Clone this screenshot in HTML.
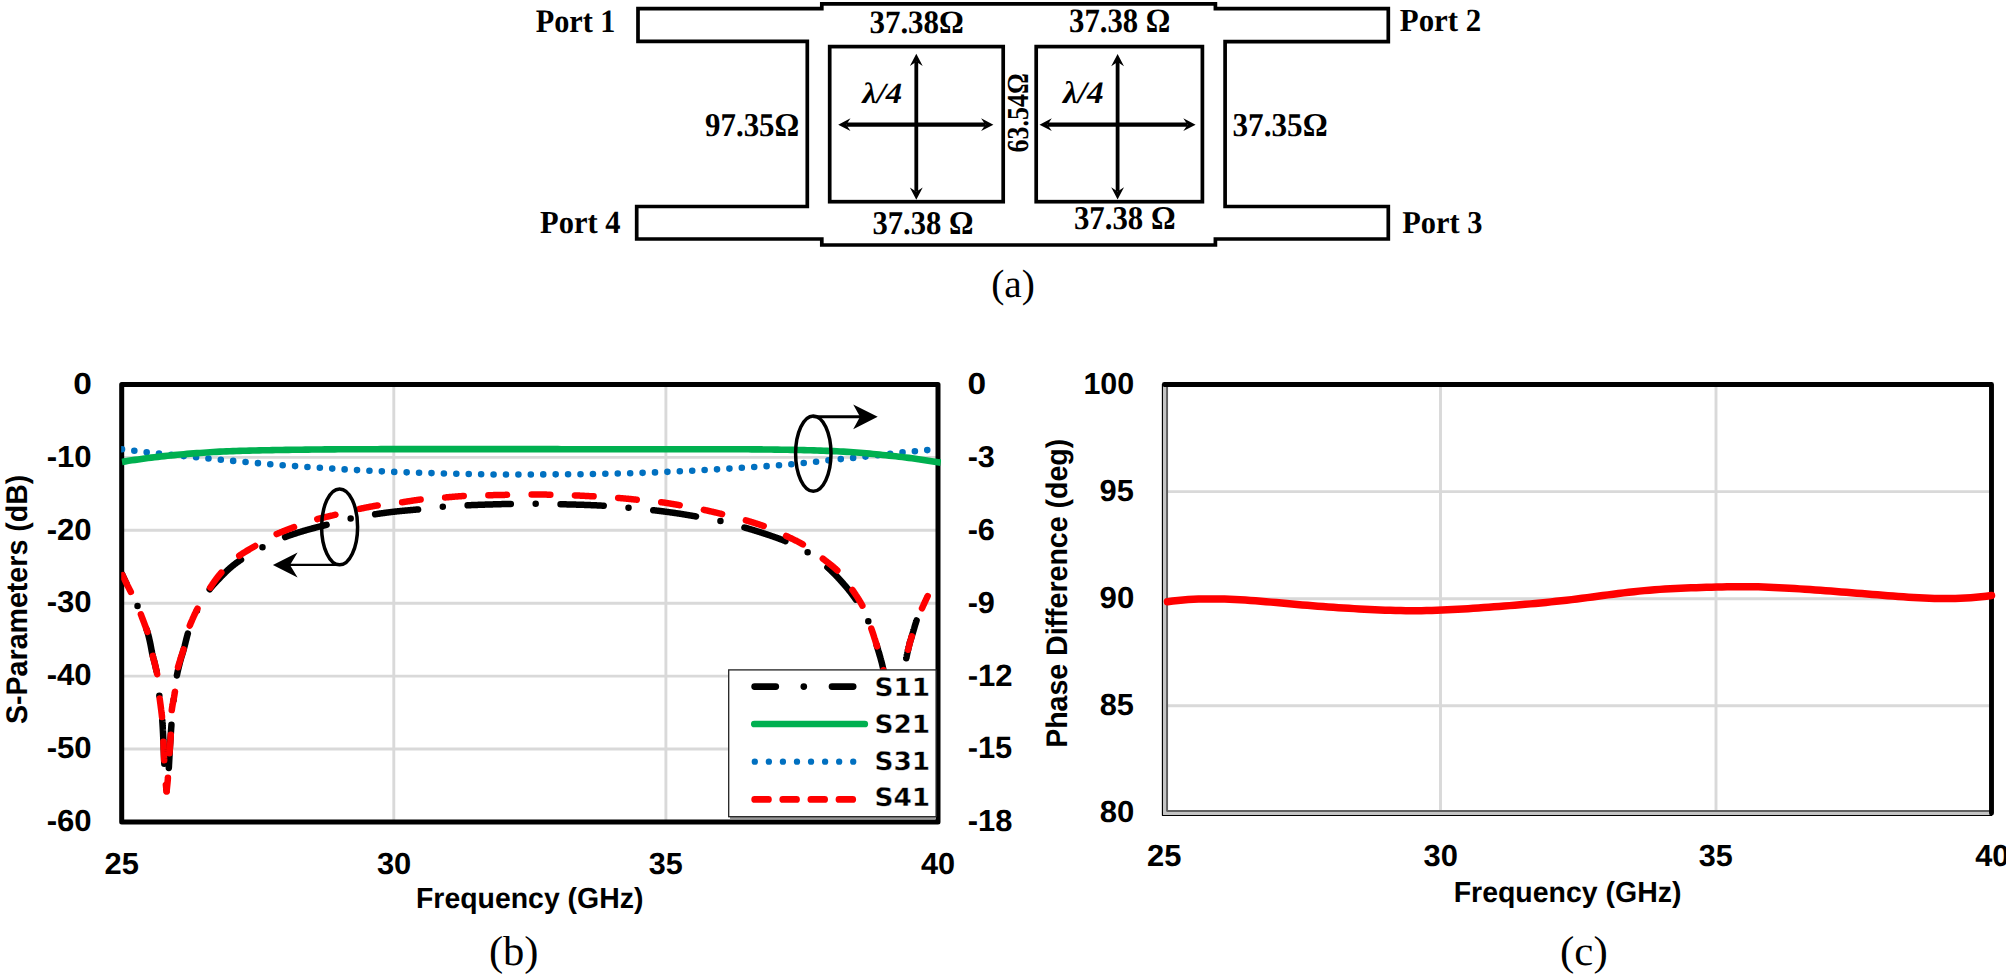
<!DOCTYPE html>
<html><head><meta charset="utf-8"><title>Figure</title>
<style>
html,body{margin:0;padding:0;background:#fff;}
body{width:2006px;height:978px;overflow:hidden;}
svg{display:block;}
text{fill:#000;text-rendering:geometricPrecision;}
</style></head><body>
<svg width="2006" height="978" viewBox="0 0 2006 978">
<rect width="2006" height="978" fill="#fff"/>

<g fill="none" stroke="#000" stroke-width="3.7" stroke-linejoin="miter">
<path d="M807.3,41.4 L638.0,41.4 L638.0,8.7 L821.8,8.7 L821.8,3.9 L1215.4,3.9 L1215.4,8.6 L1388.3,8.6 L1388.3,41.6 L1225.1,41.6 L1225.1,206.5 L1388.3,206.5 L1388.3,239.0 L1215.4,239.0 L1215.4,245.0 L821.8,245.0 L821.8,239.0 L636.7,239.0 L636.7,206.5 L807.3,206.5 Z"/>
<rect x="829.7" y="46.6" width="173.5" height="155.1"/>
<rect x="1036.2" y="46.6" width="166.2" height="155.1"/>
</g>
<path d="M916.3,61.8 L916.3,191.8" stroke="#000" stroke-width="3.8" fill="none"/>
<path d="M916.3,53.8 L909.9,66.1 L916.3,61.8 L922.7,66.1 Z" fill="#000"/>
<path d="M916.3,199.8 L922.7,187.5 L916.3,191.8 L909.9,187.5 Z" fill="#000"/>
<path d="M846.2,124.7 L985.4,124.7" stroke="#000" stroke-width="4.3" fill="none"/>
<path d="M838.2,124.7 L850.5,131.1 L846.2,124.7 L850.5,118.3 Z" fill="#000"/>
<path d="M993.4,124.7 L981.1,118.3 L985.4,124.7 L981.1,131.1 Z" fill="#000"/>
<path d="M1117.6,62.0 L1117.6,191.6" stroke="#000" stroke-width="3.8" fill="none"/>
<path d="M1117.6,54.0 L1111.2,66.3 L1117.6,62.0 L1124.0,66.3 Z" fill="#000"/>
<path d="M1117.6,199.6 L1124.0,187.3 L1117.6,191.6 L1111.2,187.3 Z" fill="#000"/>
<path d="M1047.5,124.7 L1187.6,124.7" stroke="#000" stroke-width="4.3" fill="none"/>
<path d="M1039.5,124.7 L1051.8,131.1 L1047.5,124.7 L1051.8,118.3 Z" fill="#000"/>
<path d="M1195.6,124.7 L1183.3,118.3 L1187.6,124.7 L1183.3,131.1 Z" fill="#000"/>
<text font-family='"Liberation Serif", serif' font-size="32.69" font-weight="bold" transform="translate(535.67,31.67) scale(0.9259,1)">Port 1</text>
<text font-family='"Liberation Serif", serif' font-size="32.21" font-weight="bold" transform="translate(540.07,233.08) scale(0.9460,1)">Port 4</text>
<text font-family='"Liberation Serif", serif' font-size="32.27" font-weight="bold" transform="translate(1399.76,31.48) scale(0.9583,1)">Port 2</text>
<text font-family='"Liberation Serif", serif' font-size="31.82" font-weight="bold" transform="translate(1402.27,232.98) scale(0.9567,1)">Port 3</text>
<text font-family='"Liberation Serif", serif' font-size="33.36" font-weight="bold" transform="translate(705.05,136.40) scale(0.9255,1)">97.35Ω</text>
<text font-family='"Liberation Serif", serif' font-size="33.36" font-weight="bold" transform="translate(1232.53,136.40) scale(0.9347,1)">37.35Ω</text>
<text font-family='"Liberation Serif", serif' font-size="32.65" font-weight="bold" transform="translate(869.44,32.71) scale(0.9478,1)">37.38Ω</text>
<text font-family='"Liberation Serif", serif' font-size="34.12" font-weight="bold" transform="translate(1069.05,31.69) scale(0.8993,1)">37.38 Ω</text>
<text font-family='"Liberation Serif", serif' font-size="33.09" font-weight="bold" transform="translate(872.45,233.60) scale(0.9245,1)">37.38 Ω</text>
<text font-family='"Liberation Serif", serif' font-size="33.24" font-weight="bold" transform="translate(1073.95,229.30) scale(0.9260,1)">37.38 Ω</text>
<text font-family='"Liberation Serif", serif' font-size="29.37" font-weight="bold" font-style="italic" transform="translate(862.15,103.01) scale(1.1150,1)">λ/4</text>
<text font-family='"Liberation Serif", serif' font-size="31.19" font-weight="bold" font-style="italic" transform="translate(1063.07,103.49) scale(1.0683,1)">λ/4</text>
<text font-family='"Liberation Serif", serif' font-size="30.55" font-weight="bold" transform="translate(1027.94,152.41) rotate(-90) scale(0.8500,1)">63.54Ω</text>
<text font-family='"Liberation Serif", serif' font-size="39.56" font-weight="normal" transform="translate(991.13,296.69) scale(0.9963,1)">(a)</text>
<text font-family='"Liberation Serif", serif' font-size="41.98" font-weight="normal" transform="translate(488.88,965.18) scale(1.0147,1)">(b)</text>
<text font-family='"Liberation Serif", serif' font-size="41.65" font-weight="normal" transform="translate(1560.07,964.95) scale(1.0308,1)">(c)</text>
<g stroke="#d9d9d9" stroke-width="2.9" fill="none">
<path d="M121.7,457.4 H938.0"/>
<path d="M121.7,530.3 H938.0"/>
<path d="M121.7,603.2 H938.0"/>
<path d="M121.7,676.1 H938.0"/>
<path d="M121.7,749.0 H938.0"/>
<path d="M393.8,384.5 V821.85"/>
<path d="M665.9,384.5 V821.85"/>
</g>
<rect x="121.7" y="384.5" width="816.3" height="437.4" fill="none" stroke="#000" stroke-width="5.0" stroke-linejoin="round"/>
<clipPath id="cb"><rect x="121.2" y="380" width="819.8" height="446"/></clipPath>
<g clip-path="url(#cb)">
<path d="M122.00,449.30 L122.01,449.30 M134.33,450.77 L134.34,450.77 M146.67,452.19 L146.68,452.19 M159.02,453.56 L159.03,453.56 M171.37,454.86 L171.38,454.86 M183.73,456.10 L183.74,456.10 M196.09,457.29 L196.10,457.29 M208.45,458.49 L208.46,458.49 M220.81,459.70 L220.82,459.70 M233.17,460.90 L233.18,460.90 M245.54,462.05 L245.55,462.05 M257.91,463.16 L257.92,463.16 M270.28,464.22 L270.29,464.22 M282.66,465.21 L282.67,465.21 M295.05,466.12 L295.06,466.12 M307.44,466.97 L307.45,466.97 M319.84,467.79 L319.85,467.79 M332.23,468.61 L332.24,468.61 M344.62,469.40 L344.63,469.40 M357.02,470.10 L357.03,470.10 M369.43,470.73 L369.44,470.73 M381.83,471.33 L381.84,471.33 M394.24,471.89 L394.25,471.89 M406.65,472.37 L406.66,472.37 M419.06,472.77 L419.07,472.77 M431.48,473.12 L431.49,473.12 M443.89,473.46 L443.90,473.46 M456.31,473.79 L456.32,473.79 M468.73,474.07 L468.74,474.07 M481.14,474.30 L481.15,474.30 M493.56,474.45 L493.57,474.45 M505.98,474.50 L505.99,474.50 M518.40,474.49 L518.41,474.49 M530.82,474.46 L530.83,474.46 M543.24,474.42 L543.25,474.42 M555.66,474.37 L555.67,474.37 M568.08,474.31 L568.09,474.31 M580.50,474.21 L580.51,474.21 M592.92,474.03 L592.93,474.03 M605.34,473.79 L605.35,473.79 M617.76,473.51 L617.77,473.51 M630.17,473.21 L630.18,473.21 M642.59,472.84 L642.60,472.84 M655.00,472.38 L655.01,472.38 M667.41,471.86 L667.42,471.86 M679.82,471.31 L679.83,471.31 M692.22,470.71 L692.23,470.71 M704.62,470.05 L704.63,470.05 M717.02,469.34 L717.03,469.34 M729.42,468.59 L729.43,468.59 M741.82,467.81 L741.83,467.81 M754.21,467.00 L754.22,467.00 M766.60,466.14 L766.61,466.14 M778.98,465.21 L778.99,465.21 M791.36,464.19 L791.37,464.19 M803.73,463.01 L803.74,463.01 M816.08,461.69 L816.09,461.69 M828.43,460.37 L828.44,460.37 M840.78,459.12 L840.79,459.12 M853.14,457.88 L853.15,457.88 M865.49,456.59 L865.50,456.59 M877.83,455.20 L877.84,455.20 M890.17,453.75 L890.18,453.75 M902.52,452.41 L902.53,452.41 M914.88,451.25 L914.89,451.25 M927.25,450.11 L927.26,450.11" fill="none" stroke="#0070c0" stroke-width="6.6" stroke-linecap="round"/>
<path d="M122.00,461.90 L125.24,461.38 L128.49,460.86 L131.73,460.36 L134.98,459.88 L138.23,459.40 L141.48,458.94 L144.73,458.49 L147.98,458.06 L151.24,457.64 L154.49,457.24 L157.75,456.86 L161.01,456.49 L164.27,456.13 L167.53,455.78 L170.80,455.44 L174.06,455.11 L177.33,454.79 L180.60,454.49 L183.87,454.19 L187.14,453.91 L190.41,453.65 L193.69,453.40 L196.96,453.16 L200.23,452.92 L203.51,452.69 L206.78,452.47 L210.06,452.25 L213.33,452.04 L216.61,451.85 L219.89,451.66 L223.17,451.49 L226.44,451.34 L229.72,451.20 L233.00,451.09 L236.28,450.99 L239.56,450.89 L242.84,450.79 L246.12,450.70 L249.40,450.62 L252.68,450.54 L255.96,450.46 L259.24,450.38 L262.53,450.31 L265.81,450.24 L269.09,450.18 L272.37,450.11 L275.65,450.05 L278.94,450.00 L282.22,449.94 L285.50,449.89 L288.78,449.85 L292.06,449.80 L295.35,449.76 L298.63,449.72 L301.91,449.68 L305.19,449.64 L308.47,449.60 L311.76,449.56 L315.04,449.53 L318.32,449.49 L321.60,449.45 L324.88,449.42 L328.16,449.39 L331.45,449.36 L334.73,449.33 L338.01,449.30 L341.29,449.28 L344.57,449.26 L347.86,449.24 L351.14,449.22 L354.42,449.21 L357.70,449.20 L360.98,449.20 L364.27,449.19 L367.55,449.19 L370.83,449.18 L374.11,449.18 L377.39,449.18 L380.68,449.17 L383.96,449.17 L387.24,449.16 L390.52,449.16 L393.80,449.16 L397.09,449.15 L400.37,449.15 L403.65,449.15 L406.93,449.14 L410.22,449.14 L413.50,449.14 L416.78,449.13 L420.06,449.13 L423.34,449.13 L426.63,449.13 L429.91,449.12 L433.19,449.12 L436.47,449.12 L439.75,449.12 L443.04,449.12 L446.32,449.11 L449.60,449.11 L452.88,449.11 L456.16,449.11 L459.45,449.11 L462.73,449.11 L466.01,449.11 L469.29,449.10 L472.57,449.10 L475.86,449.10 L479.14,449.10 L482.42,449.10 L485.70,449.10 L488.98,449.10 L492.27,449.10 L495.55,449.10 L498.83,449.10 L502.11,449.10 L505.39,449.10 L508.68,449.10 L511.96,449.10 L515.24,449.11 L518.52,449.11 L521.80,449.11 L525.09,449.12 L528.37,449.12 L531.65,449.13 L534.93,449.13 L538.21,449.14 L541.50,449.14 L544.78,449.15 L548.06,449.15 L551.34,449.16 L554.63,449.17 L557.91,449.17 L561.19,449.18 L564.47,449.19 L567.75,449.20 L571.04,449.20 L574.32,449.21 L577.60,449.22 L580.88,449.22 L584.16,449.23 L587.45,449.24 L590.73,449.24 L594.01,449.25 L597.29,449.26 L600.57,449.26 L603.86,449.27 L607.14,449.27 L610.42,449.28 L613.70,449.28 L616.98,449.29 L620.27,449.29 L623.55,449.29 L626.83,449.30 L630.11,449.30 L633.39,449.30 L636.68,449.30 L639.96,449.30 L643.24,449.30 L646.52,449.30 L649.80,449.30 L653.09,449.30 L656.37,449.30 L659.65,449.30 L662.93,449.30 L666.21,449.30 L669.50,449.30 L672.78,449.30 L676.06,449.30 L679.34,449.30 L682.62,449.30 L685.91,449.30 L689.19,449.30 L692.47,449.30 L695.75,449.30 L699.04,449.30 L702.32,449.30 L705.60,449.30 L708.88,449.30 L712.16,449.30 L715.45,449.30 L718.73,449.30 L722.01,449.30 L725.29,449.30 L728.57,449.30 L731.86,449.30 L735.14,449.30 L738.42,449.30 L741.70,449.30 L744.98,449.31 L748.27,449.32 L751.55,449.34 L754.83,449.36 L758.11,449.39 L761.39,449.42 L764.68,449.46 L767.96,449.50 L771.24,449.54 L774.52,449.59 L777.80,449.64 L781.08,449.69 L784.37,449.74 L787.65,449.80 L790.93,449.85 L794.21,449.91 L797.49,449.97 L800.77,450.04 L804.05,450.11 L807.34,450.20 L810.62,450.29 L813.90,450.39 L817.18,450.50 L820.46,450.61 L823.74,450.73 L827.02,450.86 L830.30,450.99 L833.58,451.12 L836.85,451.28 L840.13,451.45 L843.41,451.64 L846.68,451.85 L849.96,452.07 L853.23,452.30 L856.51,452.54 L859.78,452.78 L863.05,453.04 L866.32,453.32 L869.59,453.61 L872.86,453.92 L876.12,454.25 L879.39,454.58 L882.66,454.91 L885.92,455.25 L889.18,455.60 L892.45,455.95 L895.71,456.32 L898.97,456.69 L902.23,457.08 L905.49,457.47 L908.74,457.88 L912.00,458.30 L915.25,458.74 L918.50,459.20 L921.75,459.68 L924.99,460.17 L928.24,460.67 L931.48,461.17 L934.72,461.68 L937.96,462.19 L940.80,462.65" fill="none" stroke="#00b050" stroke-width="6.6" stroke-linecap="butt"/>
<path d="M122.00,574.00 L122.00,574.00 L122.19,574.41 L122.37,574.82 L122.56,575.23 L122.75,575.64 L122.93,576.04 L123.12,576.45 L123.31,576.86 L123.50,577.27 L123.69,577.67 L123.88,578.08 L124.07,578.49 L124.27,578.89 L124.46,579.30 L124.65,579.71 L124.84,580.11 L125.04,580.52 L125.23,580.92 L125.43,581.33 L125.63,581.73 L125.82,582.14 L126.02,582.54 L126.22,582.94 L126.42,583.34 L126.55,583.61 M137.52,605.93 L137.53,605.93 M146.44,629.15 L146.54,629.43 L146.70,629.85 L146.85,630.27 L147.00,630.70 L147.15,631.12 L147.29,631.55 L147.43,631.97 L147.57,632.40 L147.70,632.83 L147.83,633.26 L147.95,633.69 L148.08,634.12 L148.20,634.55 L148.31,634.98 L148.43,635.42 L148.54,635.85 L148.66,636.28 L148.77,636.72 L148.87,637.16 L148.98,637.59 L149.09,638.03 L149.19,638.47 L149.29,638.91 L149.39,639.35 L149.49,639.79 L149.59,640.22 L149.69,640.66 L149.79,641.10 L149.89,641.54 L149.98,641.98 L150.08,642.42 L150.17,642.86 L150.26,643.30 L150.35,643.74 L150.44,644.18 L150.53,644.62 L150.61,645.06 L150.70,645.50 L150.78,645.95 L150.86,646.39 L150.94,646.83 L151.02,647.27 L151.10,647.72 L151.18,648.16 L151.26,648.60 L151.34,649.04 L151.42,649.49 L151.50,649.93 L151.58,650.37 L151.66,650.81 L151.74,651.26 L151.83,651.70 L151.92,652.14 L152.00,652.58 L152.10,653.02 L152.19,653.46 L152.29,653.89 L152.39,654.33 L152.49,654.77 L152.59,655.20 L152.70,655.64 L152.81,656.08 L152.92,656.51 L153.04,656.95 L153.15,657.38 L153.26,657.82 L153.38,658.25 L153.50,658.69 L153.61,659.12 L153.73,659.55 L153.85,659.99 L153.97,660.42 L154.08,660.86 L154.20,661.29 L154.31,661.73 L154.43,662.16 L154.54,662.60 L154.65,663.03 L154.75,663.47 L154.86,663.91 L154.96,664.34 L155.06,664.78 L155.17,665.22 L155.27,665.66 L155.37,666.09 L155.48,666.53 L155.58,666.97 L155.69,667.41 L155.79,667.85 L155.89,668.28 L156.00,668.72 L156.10,669.16 L156.20,669.60 L156.30,670.04 L156.40,670.48 L156.49,670.92 L156.54,671.11 M159.33,695.81 L159.34,695.81 M162.28,720.51 L162.30,720.89 L162.33,721.34 L162.37,721.78 L162.40,722.23 L162.43,722.68 L162.46,723.13 L162.48,723.58 L162.51,724.03 L162.54,724.47 L162.57,724.92 L162.60,725.37 L162.62,725.82 L162.65,726.27 L162.68,726.72 L162.70,727.17 L162.73,727.61 L162.75,728.06 L162.78,728.51 L162.80,728.96 L162.82,729.41 L162.85,729.86 L162.87,730.31 L162.89,730.76 L162.92,731.21 L162.94,731.66 L162.96,732.10 L162.99,732.55 L163.01,733.00 L163.03,733.45 L163.05,733.90 L163.07,734.35 L163.10,734.80 L163.12,735.25 L163.14,735.70 L163.16,736.15 L163.18,736.59 L163.21,737.04 L163.23,737.49 L163.25,737.94 L163.27,738.39 L163.29,738.84 L163.31,739.29 L163.34,739.74 L163.36,740.19 L163.38,740.64 L163.40,741.08 L163.42,741.53 L163.44,741.98 L163.46,742.43 L163.48,742.88 L163.49,743.33 L163.51,743.78 L163.53,744.23 L163.55,744.68 L163.57,745.13 L163.59,745.57 L163.60,746.02 L163.62,746.47 L163.64,746.92 L163.65,747.37 L163.67,747.82 L163.69,748.27 L163.71,748.72 L163.72,749.17 L163.74,749.62 L163.76,750.07 L163.77,750.51 L163.79,750.96 L163.80,751.41 L163.82,751.86 L163.84,752.31 L163.85,752.76 L163.87,753.21 L163.89,753.66 L163.91,754.11 L163.92,754.56 L163.94,755.01 L163.96,755.46 L163.97,755.90 L163.99,756.35 L164.01,756.80 L164.03,757.25 L164.05,757.70 L164.06,758.15 L164.08,758.60 L164.10,759.05 L164.12,759.50 L164.14,759.95 L164.16,760.39 L164.18,760.84 L164.20,761.29 L164.22,761.74 L164.24,762.19 L164.26,762.64 L164.29,763.09 L164.31,763.54 L164.31,763.66 M166.27,788.45 L166.28,788.45" fill="none" stroke="#000" stroke-width="6.5" stroke-linecap="round"/>
<path d="M168.82,767.98 L168.83,767.70 L168.87,767.19 L168.90,766.69 L168.93,766.19 L168.96,765.68 L168.98,765.18 L169.01,764.67 L169.04,764.17 L169.07,763.67 L169.10,763.16 L169.12,762.66 L169.15,762.16 L169.18,761.65 L169.20,761.15 L169.23,760.64 L169.25,760.14 L169.28,759.64 L169.31,759.13 L169.33,758.63 L169.36,758.12 L169.38,757.62 L169.41,757.12 L169.43,756.61 L169.46,756.11 L169.48,755.60 L169.51,755.10 L169.54,754.60 L169.56,754.09 L169.59,753.59 L169.61,753.08 L169.64,752.58 L169.67,752.08 L169.69,751.57 L169.72,751.07 L169.75,750.56 L169.78,750.06 L169.81,749.56 L169.84,749.05 L169.87,748.55 L169.90,748.05 L169.93,747.54 L169.96,747.04 L169.99,746.54 L170.02,746.03 L170.05,745.53 L170.08,745.02 L170.11,744.52 L170.15,744.02 L170.18,743.51 L170.21,743.01 L170.24,742.51 L170.27,742.00 L170.30,741.50 L170.34,741.00 L170.37,740.49 L170.40,739.99 L170.43,739.49 L170.46,738.98 L170.50,738.48 L170.53,737.98 L170.56,737.47 L170.60,736.97 L170.63,736.46 L170.66,735.96 L170.70,735.46 L170.73,734.95 L170.76,734.45 L170.80,733.95 L170.83,733.44 L170.87,732.94 L170.90,732.44 L170.93,731.93 L170.97,731.43 L171.00,730.93 L171.04,730.42 L171.07,729.92 L171.11,729.42 L171.15,728.91 L171.18,728.41 L171.22,727.91 L171.25,727.40 L171.29,726.90 L171.33,726.40 L171.37,725.90 L171.40,725.39 L171.44,724.89 L171.44,724.86 M173.59,700.08 L173.60,700.08 M176.90,675.43 L176.93,675.26 L177.02,674.77 L177.12,674.28 L177.22,673.78 L177.32,673.29 L177.43,672.79 L177.53,672.30 L177.64,671.81 L177.75,671.31 L177.86,670.82 L177.97,670.33 L178.08,669.84 L178.20,669.34 L178.31,668.85 L178.43,668.36 L178.55,667.87 L178.67,667.38 L178.79,666.89 L178.91,666.40 L179.04,665.91 L179.16,665.42 L179.29,664.93 L179.41,664.44 L179.54,663.95 L179.66,663.46 L179.79,662.97 L179.91,662.48 L180.04,661.99 L180.17,661.51 L180.30,661.02 L180.42,660.53 L180.55,660.04 L180.69,659.56 L180.82,659.07 L180.96,658.59 L181.10,658.10 L181.25,657.62 L181.39,657.14 L181.54,656.65 L181.68,656.17 L181.83,655.69 L181.98,655.20 L182.13,654.72 L182.28,654.24 L182.42,653.76 L182.57,653.27 L182.72,652.79 L182.87,652.31 L183.02,651.83 L183.16,651.34 L183.31,650.86 L183.45,650.38 L183.59,649.89 L183.73,649.41 L183.87,648.92 L184.00,648.43 L184.13,647.95 L184.26,647.46 L184.39,646.97 L184.52,646.48 L184.65,646.00 L184.77,645.51 L184.90,645.02 L185.02,644.53 L185.14,644.04 L185.27,643.55 L185.39,643.06 L185.51,642.57 L185.63,642.08 L185.75,641.58 L185.87,641.09 L185.99,640.60 L186.11,640.11 L186.23,639.62 L186.35,639.13 L186.47,638.64 L186.60,638.15 L186.72,637.66 L186.85,637.17 L186.97,636.69 L187.10,636.20 L187.23,635.71 L187.36,635.22 L187.49,634.74 L187.63,634.25 L187.76,633.77 L187.80,633.64 M196.96,610.56 L196.97,610.56 M209.68,589.23 L209.71,589.18 L210.03,588.79 L210.34,588.40 L210.66,588.01 L210.98,587.62 L211.31,587.23 L211.63,586.85 L211.96,586.46 L212.29,586.08 L212.63,585.70 L212.96,585.32 L213.30,584.94 L213.64,584.56 L213.98,584.18 L214.32,583.80 L214.66,583.43 L215.01,583.06 L215.35,582.68 L215.70,582.31 L216.04,581.94 L216.39,581.57 L216.74,581.20 L217.09,580.83 L217.44,580.47 L217.79,580.10 L218.14,579.73 L218.49,579.37 L218.84,579.00 L219.19,578.64 L219.53,578.28 L219.88,577.91 L220.23,577.55 L220.58,577.19 L220.93,576.83 L221.28,576.46 L221.63,576.10 L221.99,575.74 L222.34,575.38 L222.69,575.02 L223.05,574.66 L223.41,574.30 L223.76,573.94 L224.12,573.58 L224.48,573.22 L224.84,572.86 L225.20,572.51 L225.57,572.16 L225.93,571.80 L226.29,571.45 L226.66,571.10 L227.03,570.75 L227.40,570.40 L227.76,570.06 L228.14,569.71 L228.51,569.37 L228.88,569.03 L229.26,568.69 L229.63,568.36 L230.01,568.02 L230.39,567.69 L230.77,567.36 L231.15,567.03 L231.53,566.71 L231.92,566.39 L232.30,566.07 L232.69,565.75 L233.08,565.44 L233.47,565.12 L233.87,564.81 L234.26,564.51 L234.66,564.20 L235.06,563.90 L235.46,563.59 L235.87,563.29 L236.27,562.99 L236.68,562.70 L237.09,562.40 L237.50,562.11 L237.92,561.82 L238.33,561.53 L238.75,561.24 L239.16,560.95 L239.58,560.67 L240.00,560.38 L240.42,560.10 L240.84,559.82 L241.01,559.71 M262.47,547.16 L262.48,547.16 M285.15,537.00 L285.17,536.99 L285.65,536.82 L286.12,536.65 L286.59,536.47 L287.07,536.30 L287.54,536.13 L288.02,535.96 L288.49,535.79 L288.97,535.63 L289.44,535.46 L289.92,535.29 L290.40,535.13 L290.88,534.96 L291.35,534.80 L291.83,534.64 L292.31,534.48 L292.79,534.32 L293.27,534.16 L293.75,534.00 L294.23,533.84 L294.71,533.68 L295.19,533.53 L295.67,533.37 L296.15,533.22 L296.64,533.06 L297.12,532.91 L297.60,532.76 L298.08,532.60 L298.56,532.45 L299.05,532.30 L299.53,532.15 L300.01,532.00 L300.50,531.86 L300.98,531.71 L301.46,531.56 L301.94,531.41 L302.43,531.27 L302.91,531.12 L303.39,530.98 L303.88,530.83 L304.36,530.69 L304.84,530.55 L305.33,530.40 L305.81,530.26 L306.29,530.12 L306.78,529.98 L307.26,529.84 L307.75,529.71 L308.23,529.57 L308.72,529.43 L309.20,529.30 L309.69,529.17 L310.18,529.03 L310.66,528.90 L311.15,528.77 L311.64,528.64 L312.12,528.51 L312.61,528.38 L313.10,528.25 L313.59,528.12 L314.08,527.99 L314.56,527.86 L315.05,527.74 L315.54,527.61 L316.03,527.48 L316.52,527.36 L317.01,527.23 L317.50,527.11 L317.99,526.98 L318.47,526.86 L318.96,526.73 L319.45,526.61 L319.94,526.49 L320.43,526.36 L320.92,526.24 L321.41,526.11 L321.90,525.99 L322.39,525.87 L322.88,525.74 L323.37,525.62 L323.86,525.49 L324.35,525.37 L324.84,525.24 L325.33,525.12 L325.81,524.99 L326.30,524.87 L326.57,524.80 M350.66,518.60 L350.67,518.60 M375.14,514.23 L375.57,514.17 L376.07,514.09 L376.57,514.02 L377.06,513.94 L377.56,513.87 L378.06,513.80 L378.56,513.73 L379.06,513.66 L379.56,513.58 L380.06,513.51 L380.56,513.44 L381.06,513.37 L381.56,513.30 L382.06,513.23 L382.56,513.17 L383.06,513.10 L383.56,513.03 L384.06,512.96 L384.56,512.90 L385.06,512.83 L385.56,512.76 L386.06,512.70 L386.56,512.63 L387.06,512.57 L387.57,512.51 L388.07,512.44 L388.57,512.38 L389.07,512.32 L389.57,512.25 L390.07,512.19 L390.57,512.13 L391.07,512.07 L391.57,512.01 L392.07,511.95 L392.57,511.89 L393.08,511.83 L393.58,511.77 L394.08,511.72 L394.58,511.66 L395.08,511.60 L395.58,511.55 L396.08,511.49 L396.58,511.44 L397.08,511.38 L397.59,511.33 L398.09,511.27 L398.59,511.22 L399.09,511.17 L399.59,511.12 L400.09,511.07 L400.60,511.02 L401.10,510.97 L401.60,510.92 L402.10,510.87 L402.60,510.82 L403.11,510.78 L403.61,510.73 L404.11,510.68 L404.61,510.64 L405.12,510.59 L405.62,510.54 L406.12,510.50 L406.62,510.45 L407.13,510.41 L407.63,510.36 L408.13,510.32 L408.63,510.27 L409.14,510.23 L409.64,510.18 L410.14,510.14 L410.65,510.09 L411.15,510.05 L411.65,510.00 L412.15,509.96 L412.66,509.91 L413.16,509.87 L413.66,509.82 L414.16,509.78 L414.67,509.73 L415.17,509.68 L415.67,509.64 L416.17,509.59 L416.68,509.54 L417.18,509.50 L417.68,509.45 L418.06,509.41 M442.80,506.78 L442.81,506.78 M467.63,505.28 L467.95,505.27 L468.45,505.25 L468.95,505.23 L469.46,505.20 L469.96,505.18 L470.47,505.16 L470.97,505.14 L471.47,505.12 L471.98,505.10 L472.48,505.08 L472.99,505.06 L473.49,505.04 L473.99,505.02 L474.50,505.00 L475.00,504.98 L475.51,504.96 L476.01,504.94 L476.52,504.92 L477.02,504.90 L477.52,504.88 L478.03,504.86 L478.53,504.84 L479.04,504.83 L479.54,504.81 L480.05,504.79 L480.55,504.77 L481.05,504.75 L481.56,504.74 L482.06,504.72 L482.57,504.70 L483.07,504.69 L483.58,504.67 L484.08,504.65 L484.58,504.64 L485.09,504.62 L485.59,504.60 L486.10,504.59 L486.60,504.57 L487.11,504.56 L487.61,504.54 L488.11,504.53 L488.62,504.51 L489.12,504.50 L489.63,504.48 L490.13,504.47 L490.64,504.45 L491.14,504.44 L491.64,504.42 L492.15,504.40 L492.65,504.39 L493.16,504.37 L493.66,504.36 L494.17,504.34 L494.67,504.33 L495.17,504.31 L495.68,504.29 L496.18,504.28 L496.69,504.26 L497.19,504.25 L497.70,504.23 L498.20,504.22 L498.70,504.20 L499.21,504.19 L499.71,504.17 L500.22,504.16 L500.72,504.15 L501.23,504.13 L501.73,504.12 L502.23,504.10 L502.74,504.09 L503.24,504.08 L503.75,504.07 L504.25,504.05 L504.76,504.04 L505.26,504.03 L505.77,504.02 L506.27,504.01 L506.77,504.00 L507.28,503.99 L507.78,503.98 L508.29,503.97 L508.79,503.96 L509.30,503.95 L509.80,503.94 L510.31,503.93 L510.80,503.93 M535.68,503.80 L535.69,503.80 M560.55,504.25 L560.75,504.25 L561.26,504.26 L561.76,504.27 L562.27,504.28 L562.77,504.29 L563.28,504.30 L563.78,504.32 L564.28,504.33 L564.79,504.34 L565.29,504.35 L565.80,504.36 L566.30,504.37 L566.81,504.38 L567.31,504.40 L567.82,504.41 L568.32,504.42 L568.82,504.43 L569.33,504.44 L569.83,504.46 L570.34,504.47 L570.84,504.48 L571.35,504.49 L571.85,504.51 L572.35,504.52 L572.86,504.53 L573.36,504.55 L573.87,504.56 L574.37,504.57 L574.88,504.59 L575.38,504.60 L575.89,504.62 L576.39,504.63 L576.89,504.64 L577.40,504.66 L577.90,504.67 L578.41,504.69 L578.91,504.70 L579.42,504.72 L579.92,504.73 L580.42,504.75 L580.93,504.77 L581.43,504.78 L581.94,504.80 L582.44,504.81 L582.94,504.83 L583.45,504.85 L583.95,504.86 L584.46,504.88 L584.96,504.90 L585.47,504.92 L585.97,504.94 L586.47,504.95 L586.98,504.97 L587.48,504.99 L587.99,505.01 L588.49,505.03 L589.00,505.05 L589.50,505.07 L590.00,505.09 L590.51,505.11 L591.01,505.13 L591.52,505.15 L592.02,505.17 L592.53,505.19 L593.03,505.21 L593.53,505.23 L594.04,505.26 L594.54,505.28 L595.05,505.30 L595.55,505.32 L596.05,505.35 L596.56,505.37 L597.06,505.39 L597.57,505.42 L598.07,505.44 L598.57,505.47 L599.08,505.49 L599.58,505.52 L600.09,505.54 L600.59,505.57 L601.09,505.59 L601.60,505.62 L602.10,505.65 L602.61,505.67 L603.11,505.70 L603.61,505.73 L603.72,505.74 M628.51,507.78 L628.52,507.78 M653.27,510.20 L653.36,510.21 L653.86,510.26 L654.36,510.32 L654.86,510.38 L655.36,510.44 L655.86,510.49 L656.36,510.55 L656.86,510.61 L657.36,510.67 L657.87,510.73 L658.37,510.79 L658.87,510.85 L659.37,510.91 L659.87,510.98 L660.37,511.04 L660.87,511.10 L661.37,511.16 L661.87,511.23 L662.37,511.29 L662.87,511.35 L663.37,511.42 L663.88,511.48 L664.38,511.55 L664.88,511.61 L665.38,511.68 L665.88,511.74 L666.38,511.81 L666.88,511.87 L667.38,511.94 L667.88,512.01 L668.38,512.08 L668.88,512.14 L669.38,512.21 L669.88,512.28 L670.38,512.35 L670.88,512.42 L671.38,512.49 L671.88,512.56 L672.38,512.63 L672.88,512.70 L673.37,512.77 L673.87,512.84 L674.37,512.91 L674.87,512.98 L675.37,513.05 L675.87,513.13 L676.37,513.20 L676.87,513.27 L677.37,513.35 L677.87,513.42 L678.37,513.50 L678.86,513.57 L679.36,513.65 L679.86,513.73 L680.36,513.80 L680.86,513.88 L681.36,513.96 L681.86,514.04 L682.35,514.12 L682.85,514.20 L683.35,514.28 L683.85,514.36 L684.35,514.44 L684.84,514.52 L685.34,514.60 L685.84,514.69 L686.34,514.77 L686.84,514.85 L687.33,514.93 L687.83,515.02 L688.33,515.10 L688.83,515.19 L689.32,515.27 L689.82,515.36 L690.32,515.44 L690.82,515.53 L691.31,515.61 L691.81,515.70 L692.31,515.78 L692.81,515.87 L693.30,515.96 L693.80,516.04 L694.30,516.13 L694.79,516.22 L695.29,516.30 L695.79,516.39 L696.01,516.43 M720.44,521.09 L720.45,521.09 M744.47,527.49 L744.94,527.63 L745.42,527.76 L745.91,527.90 L746.39,528.04 L746.88,528.19 L747.36,528.33 L747.85,528.47 L748.33,528.61 L748.81,528.75 L749.30,528.89 L749.78,529.04 L750.27,529.18 L750.75,529.32 L751.23,529.47 L751.72,529.61 L752.20,529.76 L752.68,529.90 L753.17,530.05 L753.65,530.20 L754.13,530.34 L754.62,530.49 L755.10,530.64 L755.58,530.79 L756.06,530.94 L756.55,531.08 L757.03,531.23 L757.51,531.39 L757.99,531.54 L758.47,531.69 L758.95,531.84 L759.43,531.99 L759.92,532.14 L760.40,532.30 L760.88,532.45 L761.36,532.61 L761.84,532.76 L762.32,532.92 L762.80,533.07 L763.28,533.23 L763.75,533.39 L764.23,533.55 L764.71,533.70 L765.19,533.86 L765.67,534.02 L766.15,534.18 L766.63,534.34 L767.10,534.50 L767.58,534.66 L768.06,534.82 L768.54,534.98 L769.02,535.14 L769.50,535.31 L769.98,535.47 L770.46,535.63 L770.93,535.79 L771.41,535.96 L771.89,536.12 L772.37,536.28 L772.85,536.45 L773.33,536.61 L773.80,536.78 L774.28,536.95 L774.76,537.11 L775.24,537.28 L775.71,537.45 L776.19,537.62 L776.66,537.79 L777.14,537.96 L777.62,538.14 L778.09,538.31 L778.56,538.48 L779.04,538.66 L779.51,538.83 L779.98,539.01 L780.46,539.19 L780.93,539.37 L781.40,539.55 L781.87,539.73 L782.34,539.91 L782.81,540.10 L783.28,540.28 L783.74,540.47 L784.21,540.66 L784.68,540.85 L785.14,541.04 L785.43,541.16 M807.62,552.35 L807.63,552.35 M827.44,567.33 L827.75,567.60 L828.13,567.94 L828.50,568.28 L828.87,568.61 L829.24,568.95 L829.61,569.30 L829.98,569.64 L830.35,569.99 L830.72,570.33 L831.08,570.68 L831.45,571.03 L831.81,571.38 L832.17,571.74 L832.53,572.09 L832.89,572.45 L833.25,572.80 L833.61,573.16 L833.97,573.52 L834.32,573.88 L834.68,574.24 L835.03,574.60 L835.39,574.97 L835.74,575.33 L836.09,575.70 L836.44,576.06 L836.79,576.43 L837.14,576.80 L837.48,577.17 L837.83,577.54 L838.17,577.90 L838.52,578.28 L838.86,578.65 L839.20,579.02 L839.54,579.39 L839.88,579.76 L840.22,580.13 L840.56,580.51 L840.89,580.88 L841.23,581.26 L841.56,581.63 L841.90,582.01 L842.23,582.38 L842.57,582.76 L842.90,583.14 L843.24,583.52 L843.57,583.90 L843.90,584.28 L844.24,584.66 L844.57,585.04 L844.90,585.42 L845.23,585.81 L845.56,586.19 L845.89,586.58 L846.21,586.96 L846.54,587.35 L846.87,587.74 L847.19,588.13 L847.52,588.52 L847.84,588.91 L848.16,589.30 L848.48,589.69 L848.80,590.08 L849.12,590.48 L849.44,590.87 L849.75,591.27 L850.07,591.67 L850.38,592.06 L850.69,592.46 L851.00,592.86 L851.31,593.26 L851.62,593.66 L851.92,594.07 L852.22,594.47 L852.53,594.87 L852.83,595.28 L853.13,595.68 L853.42,596.09 L853.72,596.50 L854.01,596.91 L854.30,597.32 L854.59,597.73 L854.88,598.14 L855.16,598.55 L855.44,598.96 L855.72,599.38 L855.93,599.68 M868.30,621.23 L868.31,621.23 M876.50,644.69 L876.61,645.07 L876.76,645.55 L876.91,646.03 L877.05,646.52 L877.20,647.00 L877.34,647.48 L877.49,647.97 L877.63,648.45 L877.78,648.93 L877.93,649.41 L878.07,649.90 L878.22,650.38 L878.36,650.86 L878.51,651.35 L878.65,651.83 L878.80,652.31 L878.94,652.80 L879.09,653.28 L879.23,653.77 L879.38,654.25 L879.52,654.74 L879.66,655.22 L879.81,655.71 L879.95,656.19 L880.09,656.68 L880.23,657.16 L880.37,657.65 L880.50,658.14 L880.64,658.62 L880.78,659.11 L880.91,659.60 L881.04,660.09 L881.18,660.57 L881.31,661.06 L881.44,661.55 L881.57,662.04 L881.69,662.53 L881.82,663.02 L881.94,663.51 L882.06,664.00 L882.18,664.49 L882.30,664.98 L882.42,665.47 L882.53,665.96 L882.65,666.45 L882.76,666.94 L882.87,667.43 L882.97,667.92 L883.08,668.41 L883.18,668.90 L883.28,669.40 L883.38,669.89 L883.48,670.38 L883.57,670.88 L883.67,671.37 L883.77,671.86 L883.86,672.36 L883.96,672.85 L884.05,673.35 L884.14,673.84 L884.24,674.34 L884.33,674.83 L884.42,675.33 L884.51,675.82 L884.61,676.32 L884.70,676.82 L884.79,677.31 L884.87,677.81 L884.96,678.31 L885.05,678.81 L885.14,679.30 L885.22,679.80 L885.31,680.30 L885.39,680.80 L885.48,681.30 L885.56,681.79 L885.64,682.29 L885.73,682.79 L885.81,683.29 L885.89,683.79 L885.97,684.29 L886.05,684.79 L886.12,685.29 L886.20,685.79 L886.28,686.29 L886.34,686.70 M889.00,711.43 L889.01,711.43 M890.61,736.25 L890.63,736.53 L890.65,737.03 L890.68,737.54 L890.71,738.04 L890.74,738.55 L890.77,739.05 L890.80,739.55 L890.83,740.06 L890.85,740.56 L890.88,741.07 L890.91,741.57 L890.94,742.08 L890.97,742.58 L891.00,743.08 L891.03,743.59 L891.05,744.09 L891.08,744.60 L891.11,745.10 L891.14,745.61 L891.17,746.11 L891.20,746.61 L891.23,747.12 L891.25,747.62 L891.28,748.13 L891.31,748.63 L891.34,749.14 L891.37,749.64 L891.40,750.14 L891.43,750.65 L891.46,751.15 L891.49,751.66 L891.52,752.16 L891.55,752.66 L891.58,753.17 L891.61,753.67 L891.64,754.18 L891.67,754.68 L891.70,755.18 L891.73,755.69 L891.76,756.19 L891.79,756.69 L891.82,757.20 L891.85,757.70 L891.89,758.21 L891.92,758.71 L891.95,759.21 L891.98,759.72 L892.01,760.22 L892.05,760.72 L892.08,761.23 L892.11,761.73 L892.14,762.23 L892.18,762.74 L892.21,763.24 L892.24,763.74 L892.27,764.25 L892.30,764.75 L892.34,765.25 L892.37,765.76 L892.40,766.26 L892.43,766.77 L892.47,767.27 L892.50,767.77 L892.53,768.28 L892.56,768.78 L892.59,769.28 L892.63,769.79 L892.66,770.29 L892.69,770.79 L892.72,771.30 L892.75,771.80 L892.78,772.30 L892.82,772.81 L892.85,773.31 L892.88,773.81 L892.91,774.32 L892.94,774.82 L892.97,775.33 L893.01,775.83 L893.04,776.33 L893.07,776.84 L893.10,777.34 L893.13,777.84 L893.16,778.35 L893.20,778.85 L893.23,779.35 L893.23,779.37" fill="none" stroke="#000" stroke-width="6.5" stroke-linecap="round"/>
<path d="M906.30,658.34 L906.31,658.28 L906.35,658.04 L906.40,657.81 L906.44,657.58 L906.49,657.35 L906.53,657.11 L906.58,656.88 L906.62,656.65 L906.67,656.41 L906.72,656.18 L906.76,655.95 L906.81,655.72 L906.86,655.48 L906.90,655.25 L906.95,655.02 L907.00,654.79 L907.05,654.55 L907.10,654.32 L907.14,654.09 L907.19,653.86 L907.24,653.62 L907.29,653.39 L907.34,653.16 L907.39,652.93 L907.44,652.70 L907.49,652.46 L907.54,652.23 L907.60,652.00 L907.65,651.77 L907.70,651.54 L907.75,651.31 L907.80,651.07 L907.85,650.84 L907.91,650.61 L907.96,650.38 L908.01,650.15 L908.07,649.92 L908.12,649.69 L908.17,649.45 L908.23,649.22 L908.28,648.99 L908.33,648.76 L908.39,648.53 L908.44,648.30 L908.50,648.07 L908.55,647.84 L908.61,647.61 L908.66,647.38 L908.72,647.15 L908.78,646.92 L908.83,646.69 L908.89,646.46 L908.94,646.23 L909.00,646.00 L909.06,645.77 L909.11,645.54 L909.17,645.31 L909.23,645.08 L909.29,644.85 L909.35,644.62 L909.41,644.39 L909.47,644.16 L909.53,643.94 L909.60,643.71 L909.66,643.48 L909.72,643.25 L909.78,643.02 L909.85,642.79 L909.91,642.56 L909.98,642.34 L910.04,642.11 L910.11,641.88 L910.17,641.65 L910.24,641.42 L910.30,641.20 L910.37,640.97 L910.44,640.74 L910.50,640.51 L910.57,640.29 L910.64,640.06 L910.71,639.83 L910.78,639.60 L910.84,639.38 L910.91,639.15 L910.98,638.92 L911.05,638.70 L911.12,638.47 L911.19,638.24 L911.26,638.01 L911.33,637.79 L911.40,637.56 L911.47,637.33 L911.54,637.11 L911.60,636.88 L911.67,636.65 L911.74,636.43 L911.81,636.20 L911.88,635.97 L911.95,635.75 L912.02,635.52 L912.09,635.29 L912.16,635.06 L912.23,634.84 L912.30,634.61 L912.37,634.38 L912.44,634.16 L912.51,633.93 L912.58,633.70 L912.65,633.48 L912.72,633.25 L912.78,633.02 L912.85,632.80 L912.92,632.57 L912.99,632.34 L913.05,632.11 L913.12,631.89 L913.19,631.66 L913.26,631.43 L913.32,631.20 L913.39,630.97 L913.46,630.75 L913.52,630.52 L913.59,630.29 L913.66,630.06 L913.72,629.83 L913.79,629.60 L913.86,629.38 L913.92,629.15 L913.99,628.92 L914.05,628.69 L914.12,628.46 L914.19,628.23 L914.25,628.01 L914.32,627.78 L914.39,627.55 L914.45,627.32 L914.52,627.09 L914.59,626.86 L914.65,626.64 L914.72,626.41 L914.79,626.18 L914.86,625.95 L914.92,625.72 L914.99,625.50 L915.06,625.27 L915.13,625.04 L915.20,624.81 L915.27,624.59 L915.34,624.36 L915.41,624.13 L915.48,623.91 L915.55,623.68 L915.62,623.45 L915.69,623.23 L915.76,623.00 L915.83,622.77 L915.90,622.55 L915.98,622.32 L916.05,622.10 L916.12,621.87 L916.20,621.65 L916.27,621.42 L916.35,621.20 L916.42,620.97 L916.50,620.75 L916.57,620.52 L916.59,620.47" fill="none" stroke="#000" stroke-width="6.5" stroke-linecap="round"/>
<path d="M122.54,575.18 L122.56,575.23 L122.75,575.64 L122.93,576.04 L123.12,576.45 L123.31,576.86 L123.50,577.27 L123.69,577.67 L123.88,578.08 L124.07,578.49 L124.27,578.89 L124.46,579.30 L124.65,579.71 L124.84,580.11 L125.04,580.52 L125.23,580.92 L125.43,581.33 L125.63,581.73 L125.82,582.14 L126.02,582.54 L126.22,582.94 L126.42,583.34 L126.62,583.75 L126.82,584.15 L127.02,584.55 L127.23,584.95 L127.43,585.35 L127.64,585.75 L127.84,586.15 L128.05,586.55 L128.25,586.95 L128.46,587.35 L128.67,587.75 L128.87,588.14 L129.08,588.54 L129.29,588.94 L129.49,589.34 L129.70,589.74 L129.91,590.14 L130.11,590.54 L130.32,590.94 L130.52,591.34 L130.72,591.74 L130.82,591.94 M140.88,614.37 L141.00,614.70 L141.16,615.12 L141.32,615.54 L141.48,615.96 L141.64,616.38 L141.80,616.80 L141.96,617.22 L142.12,617.64 L142.28,618.06 L142.44,618.48 L142.60,618.90 L142.76,619.32 L142.92,619.74 L143.08,620.16 L143.24,620.58 L143.40,621.00 L143.56,621.42 L143.72,621.84 L143.87,622.26 L144.03,622.68 L144.19,623.10 L144.34,623.52 L144.50,623.95 L144.65,624.37 L144.81,624.79 L144.96,625.21 L145.12,625.63 L145.28,626.05 L145.44,626.48 L145.60,626.90 L145.76,627.32 L145.92,627.74 L146.07,628.16 L146.23,628.58 L146.39,629.00 L146.54,629.43 L146.70,629.85 L146.85,630.27 L147.00,630.70 L147.15,631.12 L147.29,631.55 L147.40,631.90 M152.76,655.89 L152.81,656.08 L152.92,656.51 L153.04,656.95 L153.15,657.38 L153.26,657.82 L153.38,658.25 L153.50,658.69 L153.61,659.12 L153.73,659.55 L153.85,659.99 L153.97,660.42 L154.08,660.86 L154.20,661.29 L154.31,661.73 L154.43,662.16 L154.54,662.60 L154.65,663.03 L154.75,663.47 L154.86,663.91 L154.96,664.34 L155.06,664.78 L155.17,665.22 L155.27,665.66 L155.37,666.09 L155.48,666.53 L155.58,666.97 L155.69,667.41 L155.79,667.85 L155.89,668.28 L156.00,668.72 L156.10,669.16 L156.20,669.60 L156.30,670.04 L156.40,670.48 L156.49,670.92 L156.59,671.36 L156.68,671.80 L156.77,672.24 L156.86,672.68 L156.94,673.12 L157.03,673.56 L157.10,674.01 L157.12,674.07 M159.67,698.53 L159.68,698.58 L159.74,699.02 L159.80,699.47 L159.86,699.91 L159.92,700.36 L159.98,700.80 L160.04,701.25 L160.10,701.69 L160.16,702.14 L160.22,702.59 L160.28,703.03 L160.34,703.48 L160.40,703.92 L160.46,704.37 L160.52,704.81 L160.58,705.26 L160.64,705.70 L160.69,706.15 L160.75,706.60 L160.81,707.04 L160.86,707.49 L160.92,707.93 L160.97,708.38 L161.03,708.83 L161.09,709.27 L161.14,709.72 L161.20,710.16 L161.26,710.61 L161.32,711.06 L161.37,711.50 L161.43,711.95 L161.48,712.39 L161.54,712.84 L161.59,713.29 L161.65,713.73 L161.70,714.18 L161.75,714.63 L161.80,715.07 L161.85,715.52 L161.89,715.97 L161.94,716.41 L161.98,716.86 L162.00,717.09 M163.42,741.64 L163.44,741.98 L163.46,742.43 L163.48,742.88 L163.49,743.33 L163.51,743.78 L163.53,744.23 L163.55,744.68 L163.57,745.13 L163.59,745.57 L163.60,746.02 L163.62,746.47 L163.64,746.92 L163.65,747.37 L163.67,747.82 L163.69,748.27 L163.71,748.72 L163.72,749.17 L163.74,749.62 L163.76,750.07 L163.77,750.51 L163.79,750.96 L163.80,751.41 L163.82,751.86 L163.84,752.31 L163.85,752.76 L163.87,753.21 L163.89,753.66 L163.91,754.11 L163.92,754.56 L163.94,755.01 L163.96,755.46 L163.97,755.90 L163.99,756.35 L164.01,756.80 L164.03,757.25 L164.05,757.70 L164.06,758.15 L164.08,758.60 L164.10,759.05 L164.12,759.50 L164.14,759.95 L164.16,760.33 M165.88,784.87 L165.90,785.05 L165.94,785.49 L165.99,785.94 L166.04,786.39 L166.08,786.83 L166.13,787.28 L166.18,787.73 L166.23,788.17 L166.28,788.62 L166.34,789.07 L166.39,789.51 L166.44,789.96 L166.49,790.41 L166.55,790.85 L166.60,791.30" fill="none" stroke="#f00" stroke-width="6.5" stroke-linecap="round"/>
<path d="M166.60,791.30 L166.60,791.30 L166.66,790.79 L166.72,790.29 L166.77,789.78 L166.83,789.27 L166.89,788.77 L166.94,788.26 L167.00,787.75 L167.05,787.25 L167.11,786.74 L167.16,786.23 L167.21,785.72 L167.27,785.22 L167.32,784.71 L167.37,784.20 L167.42,783.70 L167.47,783.19 L167.52,782.68 L167.56,782.17 L167.61,781.67 L167.66,781.16 L167.70,780.65 L167.74,780.14 L167.79,779.64 L167.83,779.13 L167.87,778.62 L167.91,778.11 L167.92,777.87 M169.45,753.32 L169.46,753.18 L169.50,752.68 L169.54,752.17 L169.59,751.66 L169.63,751.15 L169.67,750.64 L169.71,750.14 L169.75,749.63 L169.79,749.12 L169.83,748.61 L169.88,748.10 L169.92,747.59 L169.96,747.09 L170.00,746.58 L170.04,746.07 L170.08,745.56 L170.12,745.05 L170.16,744.55 L170.20,744.04 L170.24,743.53 L170.28,743.02 L170.32,742.51 L170.36,742.00 L170.39,741.50 L170.43,740.99 L170.46,740.48 L170.50,739.97 L170.53,739.46 L170.57,738.95 L170.60,738.44 L170.63,737.94 L170.66,737.43 L170.69,736.92 L170.72,736.41 L170.74,735.90 L170.77,735.39 L170.79,734.88 L170.80,734.67 M171.79,710.10 L171.81,709.95 L171.87,709.45 L171.94,708.94 L172.01,708.44 L172.08,707.93 L172.15,707.43 L172.23,706.93 L172.31,706.42 L172.39,705.92 L172.48,705.42 L172.56,704.91 L172.65,704.41 L172.74,703.91 L172.84,703.41 L172.93,702.90 L173.02,702.40 L173.12,701.90 L173.22,701.40 L173.31,700.89 L173.41,700.39 L173.51,699.89 L173.60,699.39 L173.70,698.88 L173.80,698.38 L173.89,697.88 L173.99,697.38 L174.08,696.87 L174.17,696.37 L174.26,695.87 L174.35,695.36 L174.44,694.86 L174.52,694.36 L174.61,693.85 L174.69,693.35 L174.77,692.85 L174.84,692.34 L174.91,691.84 L174.94,691.67 M177.99,667.27 L178.03,667.09 L178.16,666.60 L178.30,666.11 L178.44,665.62 L178.58,665.13 L178.73,664.64 L178.88,664.15 L179.03,663.66 L179.19,663.17 L179.34,662.68 L179.50,662.19 L179.66,661.70 L179.81,661.22 L179.97,660.73 L180.12,660.24 L180.27,659.75 L180.42,659.26 L180.57,658.78 L180.71,658.29 L180.87,657.80 L181.02,657.31 L181.17,656.83 L181.33,656.34 L181.48,655.86 L181.64,655.37 L181.80,654.89 L181.96,654.40 L182.12,653.92 L182.28,653.43 L182.43,652.95 L182.59,652.46 L182.75,651.98 L182.90,651.49 L183.05,651.00 L183.20,650.52 L183.35,650.03 L183.49,649.54 L183.53,649.42 M189.76,625.64 L189.85,625.42 L190.04,624.95 L190.23,624.48 L190.43,624.00 L190.62,623.53 L190.82,623.06 L191.02,622.59 L191.22,622.12 L191.43,621.65 L191.63,621.18 L191.83,620.71 L192.04,620.24 L192.24,619.77 L192.45,619.31 L192.65,618.84 L192.86,618.37 L193.06,617.91 L193.26,617.44 L193.47,616.97 L193.68,616.51 L193.89,616.04 L194.10,615.58 L194.31,615.11 L194.53,614.65 L194.74,614.19 L194.96,613.73 L195.18,613.26 L195.40,612.80 L195.62,612.34 L195.84,611.89 L196.07,611.43 L196.29,610.97 L196.52,610.52 L196.75,610.06 L196.98,609.61 L197.21,609.16 L197.45,608.71 L197.49,608.62 M210.24,587.60 L210.41,587.35 L210.69,586.92 L210.97,586.49 L211.25,586.07 L211.54,585.64 L211.82,585.21 L212.11,584.79 L212.39,584.36 L212.68,583.94 L212.97,583.51 L213.26,583.09 L213.55,582.67 L213.84,582.25 L214.13,581.83 L214.43,581.41 L214.72,580.99 L215.02,580.58 L215.32,580.16 L215.62,579.75 L215.92,579.34 L216.22,578.93 L216.52,578.52 L216.83,578.11 L217.14,577.71 L217.45,577.30 L217.76,576.90 L218.07,576.50 L218.38,576.11 L218.70,575.71 L219.02,575.32 L219.34,574.93 L219.66,574.54 L219.99,574.16 L220.31,573.77 L220.64,573.39 L220.97,573.00 L221.31,572.62 L221.35,572.57 M239.24,555.77 L239.51,555.58 L239.92,555.29 L240.34,555.01 L240.76,554.72 L241.18,554.43 L241.60,554.15 L242.02,553.87 L242.45,553.59 L242.88,553.32 L243.31,553.04 L243.74,552.77 L244.17,552.50 L244.60,552.22 L245.04,551.96 L245.48,551.69 L245.91,551.42 L246.35,551.16 L246.79,550.89 L247.23,550.63 L247.67,550.36 L248.11,550.10 L248.56,549.84 L249.00,549.58 L249.44,549.32 L249.89,549.06 L250.33,548.80 L250.77,548.54 L251.22,548.28 L251.66,548.03 L252.10,547.77 L252.55,547.51 L252.99,547.25 L253.43,546.99 L253.88,546.73 L254.32,546.47 L254.76,546.22 L255.16,545.98 M276.65,534.04 L277.03,533.88 L277.49,533.67 L277.96,533.47 L278.42,533.27 L278.89,533.07 L279.36,532.87 L279.83,532.67 L280.30,532.47 L280.77,532.28 L281.24,532.08 L281.71,531.89 L282.19,531.70 L282.66,531.51 L283.13,531.32 L283.61,531.13 L284.08,530.94 L284.56,530.75 L285.03,530.56 L285.51,530.38 L285.99,530.19 L286.46,530.01 L286.94,529.82 L287.42,529.64 L287.90,529.46 L288.37,529.28 L288.85,529.09 L289.33,528.91 L289.81,528.73 L290.29,528.55 L290.76,528.37 L291.24,528.19 L291.72,528.01 L292.20,527.83 L292.67,527.65 L293.15,527.47 L293.63,527.29 L294.03,527.14 M317.26,519.10 L317.70,518.98 L318.20,518.85 L318.69,518.72 L319.18,518.60 L319.67,518.47 L320.17,518.34 L320.66,518.22 L321.16,518.10 L321.65,517.98 L322.15,517.86 L322.64,517.74 L323.14,517.62 L323.63,517.50 L324.13,517.38 L324.63,517.26 L325.12,517.15 L325.62,517.03 L326.12,516.92 L326.62,516.80 L327.11,516.69 L327.61,516.57 L328.11,516.46 L328.61,516.34 L329.10,516.23 L329.60,516.12 L330.10,516.00 L330.60,515.89 L331.09,515.77 L331.59,515.66 L332.09,515.54 L332.59,515.43 L333.08,515.31 L333.58,515.20 L334.08,515.08 L334.57,514.96 L335.07,514.84 L335.45,514.75 M359.35,508.92 L359.83,508.82 L360.33,508.71 L360.83,508.61 L361.33,508.50 L361.82,508.40 L362.32,508.29 L362.82,508.19 L363.32,508.09 L363.82,507.98 L364.32,507.88 L364.82,507.78 L365.32,507.68 L365.82,507.58 L366.32,507.48 L366.82,507.38 L367.32,507.28 L367.82,507.19 L368.33,507.09 L368.83,506.99 L369.33,506.90 L369.83,506.80 L370.33,506.71 L370.83,506.62 L371.33,506.52 L371.84,506.43 L372.34,506.34 L372.84,506.25 L373.34,506.16 L373.84,506.08 L374.35,505.99 L374.85,505.90 L375.35,505.82 L375.85,505.73 L376.36,505.65 L376.86,505.57 L377.36,505.49 L377.72,505.43 M402.11,502.26 L402.12,502.26 L402.63,502.19 L403.13,502.11 L403.64,502.03 L404.14,501.96 L404.65,501.88 L405.15,501.80 L405.65,501.73 L406.16,501.65 L406.66,501.57 L407.17,501.49 L407.67,501.41 L408.17,501.33 L408.68,501.25 L409.18,501.17 L409.69,501.09 L410.19,501.01 L410.69,500.93 L411.20,500.85 L411.70,500.77 L412.21,500.70 L412.71,500.62 L413.21,500.54 L413.72,500.46 L414.22,500.39 L414.73,500.31 L415.23,500.24 L415.73,500.17 L416.24,500.09 L416.74,500.02 L417.25,499.95 L417.75,499.88 L418.26,499.82 L418.76,499.75 L419.27,499.69 L419.77,499.62 L420.28,499.56 L420.61,499.52 M445.12,497.46 L445.16,497.46 L445.67,497.42 L446.18,497.37 L446.69,497.33 L447.19,497.29 L447.70,497.24 L448.21,497.20 L448.72,497.15 L449.23,497.11 L449.74,497.07 L450.24,497.02 L450.75,496.98 L451.26,496.93 L451.77,496.89 L452.28,496.85 L452.78,496.80 L453.29,496.76 L453.80,496.72 L454.31,496.67 L454.82,496.63 L455.32,496.59 L455.83,496.55 L456.34,496.51 L456.85,496.47 L457.36,496.43 L457.87,496.39 L458.37,496.35 L458.88,496.32 L459.39,496.28 L459.90,496.25 L460.41,496.21 L460.92,496.18 L461.42,496.14 L461.93,496.11 L462.44,496.08 L462.95,496.05 L463.46,496.02 L463.76,496.01 M488.35,495.24 L488.42,495.24 L488.93,495.23 L489.44,495.22 L489.95,495.21 L490.46,495.19 L490.97,495.18 L491.48,495.17 L491.99,495.16 L492.50,495.15 L493.01,495.13 L493.52,495.12 L494.03,495.11 L494.53,495.10 L495.04,495.09 L495.55,495.08 L496.06,495.06 L496.57,495.05 L497.08,495.04 L497.59,495.03 L498.10,495.02 L498.61,495.01 L499.12,495.00 L499.63,494.99 L500.14,494.98 L500.65,494.97 L501.16,494.96 L501.67,494.94 L502.18,494.93 L502.69,494.92 L503.20,494.91 L503.71,494.90 L504.22,494.89 L504.73,494.88 L505.24,494.87 L505.75,494.86 L506.26,494.86 L506.77,494.85 L507.05,494.84 M531.64,494.50 L531.74,494.50 L532.25,494.50 L532.76,494.51 L533.27,494.51 L533.78,494.51 L534.29,494.51 L534.80,494.51 L535.31,494.52 L535.82,494.52 L536.33,494.52 L536.84,494.53 L537.35,494.53 L537.85,494.53 L538.36,494.54 L538.87,494.54 L539.38,494.55 L539.89,494.55 L540.40,494.55 L540.91,494.56 L541.42,494.56 L541.93,494.57 L542.44,494.57 L542.95,494.58 L543.46,494.59 L543.97,494.59 L544.48,494.60 L544.99,494.60 L545.50,494.61 L546.01,494.61 L546.52,494.62 L547.03,494.63 L547.54,494.63 L548.05,494.64 L548.56,494.65 L549.07,494.65 L549.58,494.66 L550.09,494.67 L550.34,494.67 M574.93,495.39 L575.05,495.40 L575.56,495.42 L576.07,495.44 L576.58,495.46 L577.09,495.49 L577.60,495.51 L578.11,495.53 L578.62,495.56 L579.13,495.58 L579.63,495.61 L580.14,495.63 L580.65,495.66 L581.16,495.68 L581.67,495.71 L582.18,495.73 L582.69,495.76 L583.20,495.79 L583.71,495.81 L584.22,495.84 L584.72,495.87 L585.23,495.89 L585.74,495.92 L586.25,495.95 L586.76,495.98 L587.27,496.01 L587.78,496.03 L588.29,496.06 L588.80,496.09 L589.31,496.12 L589.81,496.15 L590.32,496.18 L590.83,496.21 L591.34,496.23 L591.85,496.26 L592.36,496.29 L592.87,496.32 L593.38,496.35 L593.60,496.36 M618.15,497.93 L618.30,497.94 L618.81,497.98 L619.32,498.02 L619.83,498.06 L620.33,498.11 L620.84,498.15 L621.35,498.19 L621.86,498.24 L622.36,498.28 L622.87,498.33 L623.38,498.37 L623.89,498.42 L624.39,498.47 L624.90,498.51 L625.41,498.56 L625.92,498.61 L626.42,498.66 L626.93,498.71 L627.44,498.76 L627.95,498.80 L628.45,498.85 L628.96,498.90 L629.47,498.95 L629.98,499.00 L630.48,499.05 L630.99,499.10 L631.50,499.15 L632.01,499.20 L632.51,499.25 L633.02,499.31 L633.53,499.36 L634.03,499.41 L634.54,499.46 L635.05,499.51 L635.56,499.56 L636.06,499.61 L636.57,499.66 L636.77,499.68 M661.24,502.21 L661.41,502.23 L661.92,502.30 L662.42,502.37 L662.93,502.44 L663.43,502.51 L663.93,502.58 L664.44,502.66 L664.94,502.73 L665.45,502.81 L665.95,502.88 L666.45,502.96 L666.96,503.04 L667.46,503.12 L667.97,503.20 L668.47,503.28 L668.97,503.36 L669.48,503.44 L669.98,503.52 L670.48,503.61 L670.98,503.69 L671.49,503.77 L671.99,503.86 L672.49,503.94 L673.00,504.03 L673.50,504.12 L674.00,504.20 L674.50,504.29 L675.01,504.38 L675.51,504.47 L676.01,504.55 L676.51,504.64 L677.02,504.73 L677.52,504.82 L678.02,504.91 L678.52,505.00 L679.03,505.09 L679.53,505.17 L679.70,505.20 M703.85,509.85 L704.05,509.89 L704.55,510.00 L705.05,510.11 L705.55,510.22 L706.04,510.32 L706.54,510.43 L707.04,510.54 L707.54,510.65 L708.04,510.76 L708.53,510.87 L709.03,510.99 L709.53,511.10 L710.02,511.21 L710.52,511.32 L711.02,511.44 L711.52,511.55 L712.01,511.66 L712.51,511.78 L713.01,511.89 L713.50,512.01 L714.00,512.12 L714.50,512.24 L714.99,512.36 L715.49,512.47 L715.99,512.59 L716.48,512.71 L716.98,512.83 L717.47,512.94 L717.97,513.06 L718.47,513.18 L718.96,513.30 L719.46,513.42 L719.95,513.54 L720.45,513.66 L720.94,513.78 L721.44,513.90 L721.93,514.02 L722.07,514.06 M745.86,520.34 L746.08,520.40 L746.57,520.55 L747.05,520.69 L747.54,520.84 L748.03,520.98 L748.52,521.13 L749.01,521.27 L749.50,521.42 L749.99,521.57 L750.48,521.72 L750.97,521.86 L751.45,522.01 L751.94,522.16 L752.43,522.31 L752.92,522.46 L753.41,522.62 L753.89,522.77 L754.38,522.92 L754.87,523.08 L755.35,523.23 L755.84,523.39 L756.33,523.54 L756.81,523.70 L757.30,523.86 L757.78,524.02 L758.27,524.18 L758.75,524.34 L759.24,524.50 L759.72,524.66 L760.20,524.83 L760.68,524.99 L761.17,525.16 L761.65,525.32 L762.13,525.49 L762.61,525.66 L763.09,525.83 L763.57,526.00 L763.66,526.04 M786.16,535.95 L786.41,536.07 L786.87,536.29 L787.33,536.51 L787.79,536.73 L788.25,536.95 L788.71,537.17 L789.17,537.39 L789.64,537.61 L790.10,537.83 L790.56,538.05 L791.02,538.27 L791.48,538.49 L791.94,538.71 L792.40,538.94 L792.86,539.16 L793.33,539.38 L793.79,539.61 L794.24,539.83 L794.70,540.06 L795.16,540.29 L795.62,540.52 L796.08,540.74 L796.53,540.98 L796.99,541.21 L797.44,541.44 L797.90,541.67 L798.35,541.91 L798.81,542.14 L799.26,542.38 L799.71,542.62 L800.16,542.86 L800.61,543.10 L801.05,543.34 L801.50,543.59 L801.94,543.83 L802.39,544.08 L802.83,544.33 L802.86,544.35 M822.84,558.66 L823.09,558.86 L823.49,559.17 L823.90,559.49 L824.30,559.80 L824.71,560.11 L825.11,560.42 L825.52,560.74 L825.93,561.05 L826.34,561.36 L826.74,561.67 L827.15,561.99 L827.56,562.30 L827.97,562.61 L828.38,562.93 L828.78,563.24 L829.19,563.56 L829.60,563.87 L830.00,564.19 L830.41,564.51 L830.81,564.83 L831.21,565.15 L831.61,565.47 L832.01,565.79 L832.41,566.11 L832.80,566.44 L833.20,566.76 L833.59,567.09 L833.98,567.42 L834.37,567.75 L834.75,568.08 L835.14,568.42 L835.52,568.75 L835.89,569.09 L836.27,569.43 L836.64,569.78 L837.01,570.12 L837.35,570.44 M852.41,589.83 L852.63,590.16 L852.92,590.58 L853.20,591.00 L853.49,591.42 L853.77,591.84 L854.06,592.27 L854.34,592.69 L854.63,593.12 L854.91,593.54 L855.20,593.97 L855.48,594.39 L855.76,594.82 L856.05,595.24 L856.33,595.67 L856.61,596.10 L856.89,596.53 L857.18,596.96 L857.45,597.39 L857.73,597.82 L858.01,598.25 L858.28,598.69 L858.56,599.12 L858.83,599.55 L859.10,599.99 L859.37,600.43 L859.63,600.86 L859.89,601.30 L860.16,601.74 L860.41,602.18 L860.67,602.62 L860.92,603.06 L861.17,603.51 L861.42,603.95 L861.66,604.40 L861.90,604.84 L862.14,605.29 L862.34,605.66 M871.30,628.55 L871.45,628.98 L871.61,629.46 L871.78,629.94 L871.95,630.42 L872.11,630.91 L872.27,631.39 L872.44,631.87 L872.60,632.35 L872.76,632.84 L872.92,633.32 L873.08,633.80 L873.25,634.29 L873.40,634.77 L873.56,635.25 L873.72,635.74 L873.88,636.22 L874.04,636.71 L874.19,637.20 L874.35,637.68 L874.50,638.17 L874.66,638.65 L874.81,639.14 L874.96,639.63 L875.12,640.11 L875.27,640.60 L875.42,641.09 L875.57,641.57 L875.72,642.06 L875.87,642.55 L876.02,643.04 L876.17,643.52 L876.32,644.01 L876.46,644.50 L876.61,644.99 L876.76,645.48 L876.90,645.97 L877.01,646.35 M883.42,670.09 L883.51,670.57 L883.61,671.07 L883.71,671.57 L883.80,672.07 L883.90,672.57 L884.00,673.06 L884.09,673.56 L884.19,674.06 L884.28,674.57 L884.37,675.07 L884.47,675.57 L884.56,676.07 L884.65,676.57 L884.74,677.07 L884.83,677.57 L884.92,678.08 L885.01,678.58 L885.10,679.08 L885.19,679.58 L885.27,680.09 L885.36,680.59 L885.44,681.09 L885.53,681.60 L885.61,682.10 L885.70,682.61 L885.78,683.11 L885.86,683.61 L885.94,684.12 L886.02,684.62 L886.10,685.13 L886.18,685.63 L886.25,686.14 L886.33,686.64 L886.41,687.15 L886.48,687.66 L886.55,688.16 L886.61,688.52 M889.11,712.98 L889.15,713.49 L889.19,714.00 L889.23,714.50 L889.27,715.01 L889.30,715.52 L889.34,716.03 L889.38,716.54 L889.41,717.04 L889.45,717.55 L889.48,718.06 L889.52,718.57 L889.55,719.08 L889.59,719.59 L889.62,720.09 L889.66,720.60 L889.69,721.11 L889.72,721.62 L889.76,722.13 L889.79,722.64 L889.82,723.15 L889.86,723.66 L889.89,724.16 L889.92,724.67 L889.95,725.18 L889.98,725.69 L890.02,726.20 L890.05,726.71 L890.08,727.22 L890.11,727.73 L890.14,728.24 L890.17,728.75 L890.20,729.25 L890.23,729.76 L890.26,730.27 L890.29,730.78 L890.32,731.29 L890.34,731.64 M891.76,756.20 L891.76,756.25 L891.80,756.76 L891.83,757.27 L891.86,757.78 L891.89,758.29 L891.92,758.79 L891.96,759.30 L891.99,759.81 L892.02,760.32 L892.05,760.83 L892.09,761.34 L892.12,761.85 L892.15,762.35 L892.18,762.86 L892.22,763.37 L892.25,763.88 L892.28,764.39 L892.31,764.90 L892.35,765.41 L892.38,765.92 L892.41,766.42 L892.44,766.93 L892.48,767.44 L892.51,767.95 L892.54,768.46 L892.57,768.97 L892.61,769.48 L892.64,769.98 L892.67,770.49 L892.70,771.00 L892.73,771.51 L892.77,772.02 L892.80,772.53 L892.83,773.04 L892.86,773.55 L892.89,774.05 L892.93,774.56 L892.95,774.86 M894.46,799.42 L894.47,799.49 L894.50,800.00" fill="none" stroke="#f00" stroke-width="6.5" stroke-linecap="round"/>
<path d="M908.10,649.76 L908.12,649.69 L908.17,649.45 L908.23,649.22 L908.28,648.99 L908.33,648.76 L908.39,648.53 L908.44,648.30 L908.50,648.07 L908.55,647.84 L908.61,647.61 L908.66,647.38 L908.72,647.15 L908.78,646.92 L908.83,646.69 L908.89,646.46 L908.94,646.23 L909.00,646.00 L909.06,645.77 L909.11,645.54 L909.17,645.31 L909.23,645.08 L909.29,644.85 L909.35,644.62 L909.41,644.39 L909.47,644.16 L909.53,643.94 L909.60,643.71 L909.66,643.48 L909.72,643.25 L909.78,643.02 L909.85,642.79 L909.91,642.56 L909.98,642.34 L910.04,642.11 L910.11,641.88 L910.17,641.65 L910.24,641.42 L910.30,641.20 L910.37,640.97 L910.44,640.74 L910.50,640.51 L910.57,640.29 L910.64,640.06 L910.71,639.83 L910.78,639.60 L910.84,639.38 L910.91,639.15 L910.98,638.92 L911.05,638.70 L911.12,638.47 L911.19,638.24 L911.26,638.01 L911.33,637.79 L911.40,637.56 L911.47,637.33 L911.54,637.11 L911.60,636.88 L911.67,636.65 L911.74,636.43 L911.77,636.36 M922.01,608.25 L922.04,608.19 L922.14,607.97 L922.24,607.76 L922.34,607.54 L922.44,607.33 L922.54,607.11 L922.64,606.90 L922.74,606.68 L922.84,606.47 L922.94,606.25 L923.04,606.04 L923.14,605.82 L923.23,605.60 L923.33,605.39 L923.43,605.17 L923.53,604.96 L923.63,604.74 L923.73,604.53 L923.83,604.31 L923.93,604.09 L924.03,603.88 L924.12,603.66 L924.22,603.45 L924.32,603.23 L924.42,603.02 L924.52,602.80 L924.62,602.59 L924.72,602.37 L924.82,602.15 L924.92,601.94 L925.02,601.72 L925.12,601.51 L925.22,601.29 L925.32,601.08 L925.42,600.86 L925.52,600.65 L925.62,600.43 L925.72,600.22 L925.82,600.00 L925.92,599.79 L926.02,599.57 L926.12,599.36 L926.22,599.14 L926.32,598.93 L926.42,598.71 L926.52,598.50 L926.62,598.29 L926.72,598.07 L926.82,597.86 L926.93,597.64 L927.03,597.43 L927.13,597.21 L927.23,597.00 L927.34,596.79 L927.44,596.57 L927.54,596.36 L927.64,596.15 L927.67,596.09" fill="none" stroke="#f00" stroke-width="6.5" stroke-linecap="round"/>
</g>
<g fill="none" stroke="#000">
<ellipse cx="339.6" cy="526.9" rx="18.0" ry="37.9" stroke-width="3.5"/>
<ellipse cx="813.3" cy="453.6" rx="17.7" ry="37.7" stroke-width="3.5"/>
<path d="M339.6,564.8 H285" stroke-width="2.2"/>
<path d="M813.3,416.8 H865" stroke-width="3.0"/>
</g>
<path d="M272.9,564.9 L297.6,552.4 L290.0,564.9 L297.6,577.6 Z" fill="#000"/>
<path d="M877.7,416.8 L853.2,404.4 L860.0,416.8 L853.2,429.3 Z" fill="#000"/>
<rect x="730" y="817" width="206" height="2.2" fill="#9a9a9a"/>
<rect x="728.7" y="669.9" width="207.4" height="146.8" fill="#fff" stroke="#222" stroke-width="1.3"/>
<g fill="none" stroke-linecap="round" stroke-width="6.7">
<path d="M754.6,686.6 H775.8 M803.8,686.6 h0.01 M832.0,686.6 H853.2" stroke="#000"/>
<path d="M754.3,724 H864.8" stroke="#00b050"/>
<path d="M754.80,761.7 h0.01 M768.86,761.7 h0.01 M782.92,761.7 h0.01 M796.98,761.7 h0.01 M811.04,761.7 h0.01 M825.10,761.7 h0.01 M839.16,761.7 h0.01 M853.22,761.7 h0.01" stroke="#0070c0" stroke-width="6.3"/>
<path d="M754.65,799.4 h13.80 M782.75,799.4 h13.80 M810.85,799.4 h13.80 M838.95,799.4 h13.80" stroke="#f00"/>
</g>
<text font-family='"DejaVu Sans", sans-serif' font-size="25.21" font-weight="bold" fill="#111" stroke="#fff" stroke-width="0.3" transform="translate(874.39,695.72) scale(1.0469,1)">S11</text>
<text font-family='"DejaVu Sans", sans-serif' font-size="25.21" font-weight="bold" fill="#111" stroke="#fff" stroke-width="0.3" transform="translate(874.39,732.82) scale(1.0469,1)">S21</text>
<text font-family='"DejaVu Sans", sans-serif' font-size="25.21" font-weight="bold" fill="#111" stroke="#fff" stroke-width="0.3" transform="translate(874.39,769.52) scale(1.0469,1)">S31</text>
<text font-family='"DejaVu Sans", sans-serif' font-size="25.21" font-weight="bold" fill="#111" stroke="#fff" stroke-width="0.3" transform="translate(874.39,806.22) scale(1.0469,1)">S41</text>
<text font-family='"Liberation Sans", sans-serif' font-size="30.39" font-weight="bold" transform="translate(73.16,393.85) scale(1.1015,1)">0</text>
<text font-family='"Liberation Sans", sans-serif' font-size="30.39" font-weight="bold" transform="translate(46.65,466.74) scale(1.0246,1)">-10</text>
<text font-family='"Liberation Sans", sans-serif' font-size="30.39" font-weight="bold" transform="translate(46.65,539.63) scale(1.0246,1)">-20</text>
<text font-family='"Liberation Sans", sans-serif' font-size="30.28" font-weight="bold" transform="translate(46.65,612.45) scale(1.0282,1)">-30</text>
<text font-family='"Liberation Sans", sans-serif' font-size="30.39" font-weight="bold" transform="translate(46.65,685.41) scale(1.0246,1)">-40</text>
<text font-family='"Liberation Sans", sans-serif' font-size="30.39" font-weight="bold" transform="translate(46.65,758.30) scale(1.0246,1)">-50</text>
<text font-family='"Liberation Sans", sans-serif' font-size="30.39" font-weight="bold" transform="translate(46.65,831.20) scale(1.0246,1)">-60</text>
<text font-family='"Liberation Sans", sans-serif' font-size="30.39" font-weight="bold" transform="translate(967.56,393.85) scale(1.1015,1)">0</text>
<text font-family='"Liberation Sans", sans-serif' font-size="30.28" font-weight="bold" transform="translate(967.67,466.66) scale(1.0120,1)">-3</text>
<text font-family='"Liberation Sans", sans-serif' font-size="30.39" font-weight="bold" transform="translate(967.67,539.63) scale(1.0085,1)">-6</text>
<text font-family='"Liberation Sans", sans-serif' font-size="30.39" font-weight="bold" transform="translate(967.67,612.52) scale(1.0085,1)">-9</text>
<text font-family='"Liberation Sans", sans-serif' font-size="30.82" font-weight="bold" transform="translate(967.65,685.72) scale(1.0101,1)">-12</text>
<text font-family='"Liberation Sans", sans-serif' font-size="30.82" font-weight="bold" transform="translate(967.67,758.30) scale(1.0009,1)">-15</text>
<text font-family='"Liberation Sans", sans-serif' font-size="30.39" font-weight="bold" transform="translate(967.66,831.20) scale(1.0171,1)">-18</text>
<text font-family='"Liberation Sans", sans-serif' font-size="30.53" font-weight="bold" transform="translate(104.52,873.89) scale(1.0131,1)">25</text>
<text font-family='"Liberation Sans", sans-serif' font-size="30.42" font-weight="bold" transform="translate(376.90,873.82) scale(1.0167,1)">30</text>
<text font-family='"Liberation Sans", sans-serif' font-size="30.42" font-weight="bold" transform="translate(648.81,873.82) scale(1.0047,1)">35</text>
<text font-family='"Liberation Sans", sans-serif' font-size="30.53" font-weight="bold" transform="translate(920.94,873.89) scale(1.0059,1)">40</text>
<text font-family='"Liberation Sans", sans-serif' font-size="29.00" font-weight="bold" transform="translate(415.98,907.90) scale(0.9799,1)">Frequency (GHz)</text>
<text font-family='"Liberation Sans", sans-serif' font-size="29.80" font-weight="bold" transform="translate(27.00,724.06) rotate(-90) scale(0.9595,1)">S-Parameters (dB)</text>
<g stroke="#d9d9d9" stroke-width="2.9" fill="none">
<path d="M1165.0,491.6 H1991.5"/>
<path d="M1165.0,598.7 H1991.5"/>
<path d="M1165.0,705.8 H1991.5"/>
<path d="M1440.5,384.5 V812.9"/>
<path d="M1716.0,384.5 V812.9"/>
</g>
<path d="M1162.45,384 V815.35 H1992" fill="none" stroke="#000" stroke-width="1.2" stroke-linejoin="round"/>
<path d="M1164.55,384 V813.45 H1992" fill="none" stroke="#c4c4c4" stroke-width="3.1" stroke-linejoin="round"/>
<path d="M1167.05,384 V810.95 H1992" fill="none" stroke="#606060" stroke-width="2.0" stroke-linejoin="round"/>
<path d="M1164.35,384.45 H1991.5 V813.35" fill="none" stroke="#000" stroke-width="4.9" stroke-linejoin="round" stroke-linecap="round"/>
<path d="M1167.50,601.69 L1172.68,601.02 L1177.86,600.46 L1183.05,599.99 L1188.23,599.61 L1193.41,599.31 L1198.59,599.10 L1203.78,598.97 L1208.96,598.90 L1214.14,598.91 L1219.32,598.98 L1224.51,599.11 L1229.69,599.29 L1234.87,599.52 L1240.05,599.79 L1245.24,600.11 L1250.42,600.46 L1255.60,600.84 L1260.78,601.25 L1265.97,601.68 L1271.15,602.13 L1276.33,602.58 L1281.51,603.05 L1286.69,603.52 L1291.88,603.98 L1297.06,604.44 L1302.24,604.89 L1307.42,605.33 L1312.61,605.75 L1317.79,606.16 L1322.97,606.55 L1328.15,606.93 L1333.34,607.30 L1338.52,607.65 L1343.70,607.99 L1348.88,608.31 L1354.07,608.62 L1359.25,608.92 L1364.43,609.20 L1369.61,609.47 L1374.80,609.72 L1379.98,609.95 L1385.16,610.15 L1390.34,610.33 L1395.53,610.48 L1400.71,610.59 L1405.89,610.67 L1411.07,610.70 L1416.25,610.69 L1421.44,610.64 L1426.62,610.54 L1431.80,610.41 L1436.98,610.25 L1442.17,610.05 L1447.35,609.82 L1452.53,609.57 L1457.71,609.29 L1462.90,608.98 L1468.08,608.66 L1473.26,608.32 L1478.44,607.96 L1483.63,607.59 L1488.81,607.21 L1493.99,606.83 L1499.17,606.43 L1504.36,606.03 L1509.54,605.62 L1514.72,605.20 L1519.90,604.77 L1525.08,604.33 L1530.27,603.87 L1535.45,603.40 L1540.63,602.92 L1545.81,602.41 L1551.00,601.89 L1556.18,601.35 L1561.36,600.79 L1566.54,600.21 L1571.73,599.60 L1576.91,598.97 L1582.09,598.32 L1587.27,597.65 L1592.46,596.96 L1597.64,596.26 L1602.82,595.56 L1608.00,594.87 L1613.19,594.18 L1618.37,593.52 L1623.55,592.87 L1628.73,592.25 L1633.92,591.67 L1639.10,591.12 L1644.28,590.62 L1649.46,590.16 L1654.64,589.75 L1659.83,589.38 L1665.01,589.04 L1670.19,588.74 L1675.37,588.47 L1680.56,588.22 L1685.74,588.00 L1690.92,587.81 L1696.10,587.63 L1701.29,587.47 L1706.47,587.32 L1711.65,587.19 L1716.83,587.06 L1722.02,586.95 L1727.20,586.84 L1732.38,586.76 L1737.56,586.71 L1742.75,586.68 L1747.93,586.70 L1753.11,586.77 L1758.29,586.87 L1763.47,587.02 L1768.66,587.20 L1773.84,587.41 L1779.02,587.65 L1784.20,587.92 L1789.39,588.22 L1794.57,588.54 L1799.75,588.87 L1804.93,589.22 L1810.12,589.58 L1815.30,589.95 L1820.48,590.33 L1825.66,590.71 L1830.85,591.11 L1836.03,591.50 L1841.21,591.90 L1846.39,592.31 L1851.58,592.72 L1856.76,593.14 L1861.94,593.56 L1867.12,593.98 L1872.31,594.40 L1877.49,594.82 L1882.67,595.24 L1887.85,595.66 L1893.03,596.07 L1898.22,596.46 L1903.40,596.83 L1908.58,597.18 L1913.76,597.50 L1918.95,597.79 L1924.13,598.03 L1929.31,598.24 L1934.49,598.39 L1939.68,598.49 L1944.86,598.53 L1950.04,598.51 L1955.22,598.43 L1960.41,598.27 L1965.59,598.03 L1970.77,597.71 L1975.95,597.31 L1981.14,596.81 L1986.32,596.22 L1991.50,595.52" fill="none" stroke="#f00" stroke-width="7.5" stroke-linecap="round" stroke-linejoin="round"/>
<text font-family='"Liberation Sans", sans-serif' font-size="30.39" font-weight="bold" transform="translate(1083.40,393.85) scale(1.0030,1)">100</text>
<text font-family='"Liberation Sans", sans-serif' font-size="30.39" font-weight="bold" transform="translate(1099.62,500.95) scale(1.0147,1)">95</text>
<text font-family='"Liberation Sans", sans-serif' font-size="30.39" font-weight="bold" transform="translate(1099.61,608.05) scale(1.0270,1)">90</text>
<text font-family='"Liberation Sans", sans-serif' font-size="30.39" font-weight="bold" transform="translate(1099.70,715.15) scale(1.0123,1)">85</text>
<text font-family='"Liberation Sans", sans-serif' font-size="30.39" font-weight="bold" transform="translate(1099.69,822.25) scale(1.0245,1)">80</text>
<text font-family='"Liberation Sans", sans-serif' font-size="30.53" font-weight="bold" transform="translate(1147.12,866.24) scale(1.0131,1)">25</text>
<text font-family='"Liberation Sans", sans-serif' font-size="30.42" font-weight="bold" transform="translate(1423.50,866.17) scale(1.0167,1)">30</text>
<text font-family='"Liberation Sans", sans-serif' font-size="30.42" font-weight="bold" transform="translate(1698.81,866.17) scale(1.0047,1)">35</text>
<text font-family='"Liberation Sans", sans-serif' font-size="30.53" font-weight="bold" transform="translate(1975.14,866.24) scale(1.0059,1)">40</text>
<text font-family='"Liberation Sans", sans-serif' font-size="29.00" font-weight="bold" transform="translate(1453.68,901.80) scale(0.9817,1)">Frequency (GHz)</text>
<text font-family='"Liberation Sans", sans-serif' font-size="29.80" font-weight="bold" transform="translate(1067.40,747.82) rotate(-90) scale(0.9569,1)">Phase Difference (deg)</text>
</svg></body></html>
